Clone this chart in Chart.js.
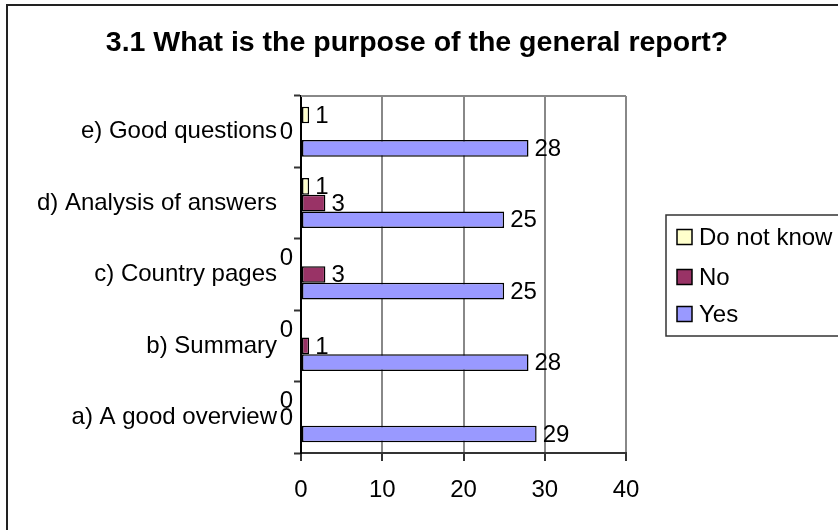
<!DOCTYPE html>
<html>
<head>
<meta charset="utf-8">
<title>3.1 What is the purpose of the general report?</title>
<script src="https://cdn.jsdelivr.net/npm/chart.js@4.4.1/dist/chart.umd.min.js"></script>
<style>
  html, body { margin: 0; padding: 0; background: #fff; }
  #wrap { width: 838px; height: 530px; }
</style>
</head>
<body>
<div id="wrap"><canvas id="chart" width="838" height="530"></canvas></div>
<script>
// Chart data (top to bottom, as drawn)
const chartTitle = '3.1 What is the purpose of the general report?';
const categories = ['e) Good questions', 'd) Analysis of answers', 'c) Country pages', 'b) Summary', 'a) A good overview'];
const dontKnowValues = [1, 1, 0, 0, 0];
const noValues = [0, 3, 3, 1, 0];
const yesValues = [28, 25, 25, 28, 29];
const xTicks = [0, 10, 20, 30, 40];

const seriesColors = { dontKnow: '#FFFFCC', no: '#993366', yes: '#9999FF' };

const FONT = "'Liberation Sans', Arial, sans-serif";
Chart.defaults.font.family = FONT;
Chart.defaults.color = '#000';

// zero-valued bars get no border, like the original
function barBorder(ctx) {
  return ctx.raw === 0 ? 0 : 1.5;
}

// title, frame, plot-area top edge and legend box
const framePlugin = {
  id: 'frame',
  beforeDatasetsDraw(chart) {
    const { ctx, chartArea } = chart;
    ctx.save();
    ctx.strokeStyle = '#888';
    ctx.lineWidth = 2;
    ctx.beginPath();
    ctx.moveTo(chartArea.left, chartArea.top);
    ctx.lineTo(chartArea.right, chartArea.top);
    ctx.stroke();
    ctx.restore();
  },
  afterDraw(chart) {
    const ctx = chart.ctx;
    ctx.save();
    // title, centred on the whole chart
    ctx.font = 'bold 28.5px ' + FONT;
    ctx.fillStyle = '#000';
    ctx.textAlign = 'center';
    ctx.textBaseline = 'middle';
    ctx.fillText(chartTitle, 417, 43);

    // outer border
    ctx.strokeStyle = '#222';
    ctx.lineWidth = 2;
    ctx.strokeRect(7, 5, 900, 600);

    // legend
    ctx.strokeStyle = '#333';
    ctx.lineWidth = 1.5;
    ctx.strokeRect(666, 215, 220, 121);
    const rows = [237, 277, 314];
    ctx.font = '24px ' + FONT;
    ctx.textBaseline = 'middle';
    ctx.textAlign = 'left';
    chart.data.datasets.forEach((ds, i) => {
      const y = rows[i];
      ctx.fillStyle = ds.backgroundColor;
      ctx.fillRect(677, y - 7.5, 15, 15);
      ctx.strokeStyle = '#000';
      ctx.lineWidth = 1.5;
      ctx.strokeRect(677, y - 7.5, 15, 15);
      ctx.fillStyle = '#000';
      ctx.fillText(ds.label, 699, y + 1);
    });
    ctx.restore();
  }
};

// value labels next to each bar, zero values sit left of the axis
const valueLabels = {
  id: 'valueLabels',
  afterDatasetsDraw(chart) {
    const ctx = chart.ctx;
    const x0 = chart.scales.x.getPixelForValue(0);
    ctx.save();
    ctx.font = '24px ' + FONT;
    ctx.fillStyle = '#000';
    ctx.textBaseline = 'middle';
    chart.data.datasets.forEach((ds, i) => {
      const meta = chart.getDatasetMeta(i);
      meta.data.forEach((bar, j) => {
        const v = ds.data[j];
        if (v === 0) {
          ctx.textAlign = 'right';
          ctx.fillText(String(v), x0 - 8, bar.y + 1);
        } else {
          ctx.textAlign = 'left';
          ctx.fillText(String(v), bar.x + 6, bar.y + 1);
        }
      });
    });
    ctx.restore();
  }
};

new Chart(document.getElementById('chart'), {
  type: 'bar',
  data: {
    labels: categories,
    datasets: [
      { label: 'Do not know', data: dontKnowValues, backgroundColor: seriesColors.dontKnow },
      { label: 'No', data: noValues, backgroundColor: seriesColors.no },
      { label: 'Yes', data: yesValues, backgroundColor: seriesColors.yes }
    ]
  },
  options: {
    indexAxis: 'y',
    responsive: false,
    animation: false,
    layout: { padding: { left: 0, right: 212, top: 96, bottom: 0 } },
    datasets: {
      bar: {
        categoryPercentage: 0.7,
        barPercentage: 1,
        borderColor: '#000',
        borderWidth: barBorder,
        borderSkipped: false
      }
    },
    plugins: {
      legend: { display: false },
      tooltip: { enabled: false },
      title: { display: false }
    },
    scales: {
      x: {
        min: 0,
        max: 40,
        afterFit(scale) { scale.height = 77; },
        afterBuildTicks(scale) { scale.ticks = xTicks.map(v => ({ value: v })); },
        grid: { color: '#888', lineWidth: 2, tickLength: 8, tickColor: '#333', tickWidth: 2 },
        border: { color: '#333', width: 2 },
        ticks: { font: { size: 24 }, padding: 15, color: '#000' }
      },
      y: {
        afterFit(scale) { scale.width = 301; },
        grid: { offset: true, drawOnChartArea: false, tickLength: 7, tickColor: '#333', tickWidth: 2 },
        border: { color: '#000', width: 2 },
        ticks: { font: { size: 24 }, padding: 17, color: '#000' }
      }
    }
  },
  plugins: [framePlugin, valueLabels]
});
</script>
</body>
</html>
